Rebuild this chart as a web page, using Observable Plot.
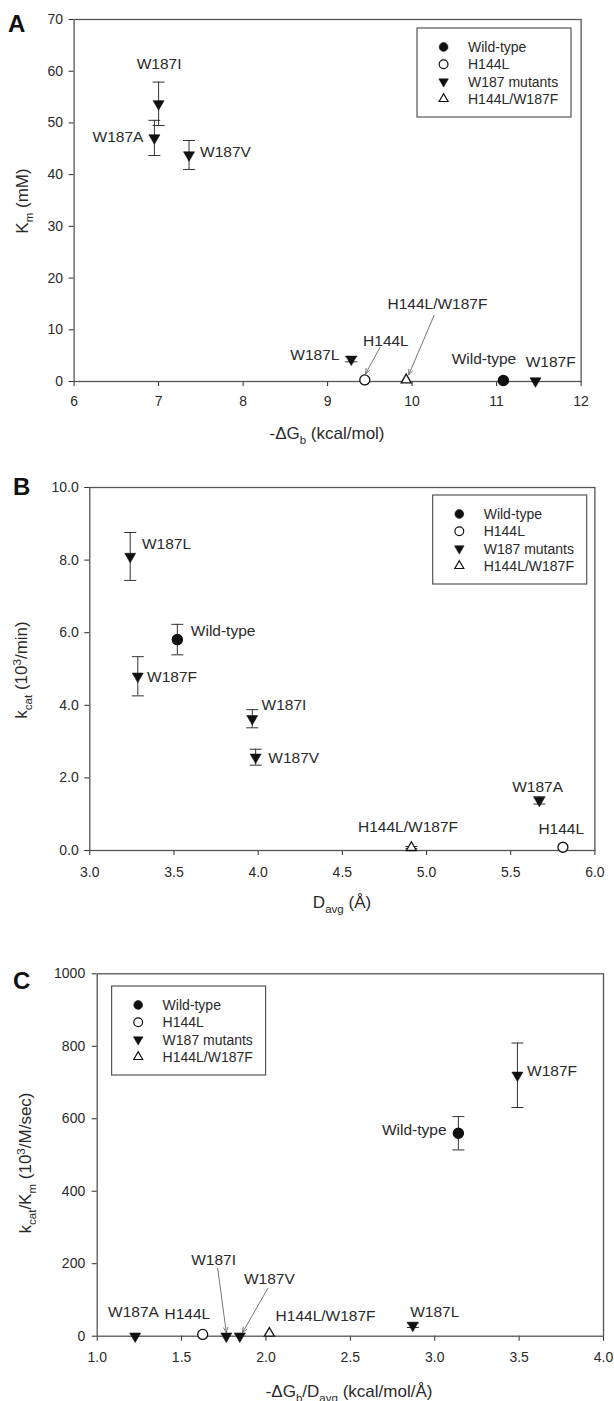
<!DOCTYPE html>
<html><head><meta charset="utf-8">
<script src="https://cdn.jsdelivr.net/npm/d3@7"></script>
<script src="https://cdn.jsdelivr.net/npm/@observablehq/plot@0.6"></script>
<style>
body{margin:0;background:#fff;}
#chart svg{display:block;overflow:visible;}
</style></head><body><div id="chart"></div>
<script>
// ---------- data ----------
const names  = ["Wild-type","H144L","W187A","W187I","W187V","W187L","W187F","H144L/W187F"];
const groups = ["Wild-type","H144L","W187 mutants","W187 mutants","W187 mutants","W187 mutants","W187 mutants","H144L/W187F"];
const legendLabels = ["Wild-type","H144L","W187 mutants","H144L/W187F"];

// Panel A: -dGb (kcal/mol) vs Km (mM)
const dG    = [11.08, 9.44, 6.95, 7.00, 7.36, 9.28, 11.46, 9.93];
const km    = [0.2, 0.3, 47.1, 53.7, 43.8, 4.3, 0.1, 0.3];
const kmErr = [0, 0, 3.4, 4.2, 2.8, 0.5, 0, 0];
// Panel B: Davg (Å) vs kcat (10^3/min)
const davg    = [3.52, 5.81, 5.67, 3.965, 3.985, 3.24, 3.285, 4.91];
const kcat    = [5.81, 0.09, 1.38, 3.63, 2.57, 8.10, 4.80, 0.08];
const kcatErr = [0.42, 0, 0.10, 0.25, 0.22, 0.66, 0.54, 0.03];
// Panel C: -dGb/Davg vs kcat/Km (10^3/M/sec)
const ratio  = [3.14, 1.625, 1.225, 1.765, 1.845, 2.87, 3.49, 2.02];
const eff    = [560, 5, 0, 0, 0, 30, 720, 8];
const effErr = [46, 0, 0, 0, 0, 6, 89, 0];

const xTicksA = [6,7,8,9,10,11,12];
const yTicksA = [0,10,20,30,40,50,60,70];
const xTicksB = [3.0,3.5,4.0,4.5,5.0,5.5,6.0];
const yTicksB = [0,2,4,6,8,10];
const xTicksC = [1.0,1.5,2.0,2.5,3.0,3.5,4.0];
const yTicksC = [0,200,400,600,800,1000];

// annotations (data units)
const labelsA = [
  {text:"W187I", x:7.006, y:61.3, anchor:"middle"},
  {text:"W187A", x:6.82, y:47.2, anchor:"end"},
  {text:"W187V", x:7.49, y:44.3, anchor:"start"},
  {text:"W187L", x:9.14, y:5.2, anchor:"end"},
  {text:"H144L", x:9.69, y:7.9, anchor:"middle"},
  {text:"H144L/W187F", x:10.30, y:15.0, anchor:"middle"},
  {text:"Wild-type", x:10.85, y:4.4, anchor:"middle"},
  {text:"W187F", x:11.64, y:3.7, anchor:"middle"}
];
const arrowsA = [
  {x1:9.62, y1:6.6, x2:9.45, y2:1.5},
  {x1:10.26, y1:12.8, x2:9.96, y2:1.3}
];
const labelsB = [
  {text:"W187L", x:3.31, y:8.45, anchor:"start"},
  {text:"Wild-type", x:3.60, y:6.04, anchor:"start"},
  {text:"W187F", x:3.34, y:4.77, anchor:"start"},
  {text:"W187I", x:4.02, y:4.01, anchor:"start"},
  {text:"W187V", x:4.06, y:2.55, anchor:"start"},
  {text:"W187A", x:5.66, y:1.76, anchor:"middle"},
  {text:"H144L/W187F", x:4.89, y:0.64, anchor:"middle"},
  {text:"H144L", x:5.80, y:0.60, anchor:"middle"}
];
const arrowsB = [];
const labelsC = [
  {text:"W187A", x:1.215, y:66, anchor:"middle"},
  {text:"H144L", x:1.534, y:60, anchor:"middle"},
  {text:"W187I", x:1.69, y:209, anchor:"middle"},
  {text:"W187V", x:2.02, y:159, anchor:"middle"},
  {text:"H144L/W187F", x:2.353, y:57, anchor:"middle"},
  {text:"W187L", x:3.00, y:66, anchor:"middle"},
  {text:"Wild-type", x:3.07, y:568, anchor:"end"},
  {text:"W187F", x:3.547, y:733, anchor:"start"}
];
const arrowsC = [
  {x1:1.714, y1:187, x2:1.765, y2:10},
  {x1:2.011, y1:132, x2:1.861, y2:10}
];

// ---------- styling ----------
const FONT = '"Liberation Sans", Arial, Helvetica, sans-serif';
const INK = "#2a2a2a", FRAME = "#555", BAR = "#333", ARROW = "#666", MARK = "#111";

const triDown = {draw(ctx){ const s=11, h=9.5; ctx.moveTo(0,2*h/3); ctx.lineTo(-s/2,-h/3); ctx.lineTo(s/2,-h/3); ctx.closePath(); }};
const triUp   = {draw(ctx){ const s=10, h=8.7; ctx.moveTo(0,-2*h/3); ctx.lineTo(s/2,h/3); ctx.lineTo(-s/2,h/3); ctx.closePath(); }};
const triDownS = {draw(ctx){ const s=9.5, h=8.2; ctx.moveTo(0,2*h/3); ctx.lineTo(-s/2,-h/3); ctx.lineTo(s/2,-h/3); ctx.closePath(); }};
const triUpS   = {draw(ctx){ const s=9, h=7.8; ctx.moveTo(0,-2*h/3); ctx.lineTo(s/2,h/3); ctx.lineTo(-s/2,h/3); ctx.closePath(); }};
const capSym  = {draw(ctx){ ctx.moveTo(-6,0); ctx.lineTo(6,0); }};

function dotMarks(rows) {
  const g = k => rows.filter(d => d.group === k);
  return [
    Plot.dot(g("Wild-type"), {x:"x", y:"y", r:5, fill:MARK, stroke:MARK}),
    Plot.dot(g("H144L"), {x:"x", y:"y", r:5, fill:"white", stroke:MARK, strokeWidth:1.3}),
    Plot.dot(g("W187 mutants"), {x:"x", y:"y", symbol:triDown, fill:MARK, stroke:MARK, strokeWidth:0.6}),
    Plot.dot(g("H144L/W187F"), {x:"x", y:"y", symbol:triUp, fill:"white", stroke:MARK, strokeWidth:1.3})
  ];
}

function labelMarks(labels) {
  return ["start","middle","end"].map(a =>
    Plot.text(labels.filter(d => d.anchor === a), {x:"x", y:"y", text:"text", textAnchor:a, fontSize:15.5, fill:INK}));
}

function richText(svg, x, y, parts, size, rotate) {
  const t = d3.select(svg).append("text")
    .attr("transform", `translate(${x},${y}) rotate(${rotate||0})`)
    .attr("y", size*0.35).attr("text-anchor","middle")
    .attr("font-family", FONT).attr("font-size", size).attr("fill", INK);
  let off = 0;
  parts.forEach(([txt, kind]) => {
    const target = kind === "sub" ? size*0.28 : kind === "sup" ? -size*0.38 : 0;
    t.append("tspan").attr("dy", target - off)
      .attr("font-size", kind ? size*0.68 : size).text(txt);
    off = target;
  });
}

function legend(svg, x0, y0) {
  const g = d3.select(svg).append("g");
  g.append("rect").attr("x", x0).attr("y", y0).attr("width", 154).attr("height", 89)
    .attr("fill","white").attr("stroke", FRAME).attr("stroke-width", 1.2);
  const sym = {
    "Wild-type": {type: d3.symbolCircle, fill: MARK},
    "H144L": {type: d3.symbolCircle, fill: "white"},
    "W187 mutants": {type: triDownS, fill: MARK},
    "H144L/W187F": {type: triUpS, fill: "white"}
  };
  legendLabels.forEach((lab, i) => {
    const cy = y0 + 19 + i*17.3;
    const s = sym[lab];
    g.append("path").attr("transform", `translate(${x0+26.6},${cy})`)
      .attr("d", d3.symbol(s.type, Math.PI*4.4*4.4)())
      .attr("fill", s.fill).attr("stroke", MARK).attr("stroke-width", s.fill === "white" ? 1.2 : 0.6);
    g.append("text").attr("x", x0+51).attr("y", cy).attr("dy","0.35em")
      .attr("text-anchor", "start")
      .attr("font-family", FONT).attr("font-size", 14).attr("fill", INK).text(lab);
  });
}

function letter(svg, x, y, txt) {
  d3.select(svg).append("text").attr("x", x).attr("y", y).attr("text-anchor", "start")
    .attr("font-family", FONT).attr("font-weight", "bold").attr("font-size", 24).attr("fill", "#111").text(txt);
}

function panel(cfg) {
  const rows = names.map((n, i) => ({name:n, group:groups[i], x:cfg.xs[i], y:cfg.ys[i], e:cfg.es[i]}));
  const withErr = rows.filter(d => d.e > 0);
  const [mt, mr, mb, ml] = cfg.margins;
  const svg = Plot.plot({
    width: 614, height: cfg.height,
    marginTop: mt, marginRight: mr, marginBottom: mb, marginLeft: ml,
    style: {fontFamily: FONT, fontSize: "14px", color: INK, background: "white", overflow: "visible"},
    x: {domain: cfg.xDomain, ticks: cfg.xTicks, tickFormat: cfg.fmtX, tickSize: 5, tickPadding: cfg.padX, label: null},
    y: {domain: cfg.yDomain, ticks: cfg.yTicks, tickFormat: cfg.fmtY, tickSize: 5, tickPadding: cfg.padY, label: null},
    marks: [
      Plot.frame({stroke: FRAME, strokeWidth: 1.3}),
      Plot.ruleX(withErr, {x:"x", y1: d => d.y - d.e, y2: d => d.y + d.e, stroke: BAR, strokeWidth: 1}),
      Plot.dot(withErr, {x:"x", y: d => d.y + d.e, symbol: capSym, stroke: BAR, fill: "none", strokeWidth: 1}),
      Plot.dot(withErr, {x:"x", y: d => d.y - d.e, symbol: capSym, stroke: BAR, fill: "none", strokeWidth: 1}),
      Plot.arrow(cfg.arrows, {x1:"x1", y1:"y1", x2:"x2", y2:"y2", stroke: ARROW, strokeWidth: 0.9, headLength: 9, headAngle: 45}),
      ...dotMarks(rows),
      ...labelMarks(cfg.labels)
    ]
  });
  document.getElementById("chart").appendChild(svg);
  return svg;
}

const fInt = d3.format("d"), f1 = d3.format(".1f");

// Panel A
const svgA = panel({xs: dG, ys: km, es: kmErr, xDomain:[6,12], yDomain:[0,70], xTicks:xTicksA, yTicks:yTicksA,
  fmtX: fInt, fmtY: fInt, height: 460, margins:[19, 33.4, 79, 73.6], padX: 10, padY: 6, labels: labelsA, arrows: arrowsA});
letter(svgA, 8, 32, "A");
legend(svgA, 417, 28);
richText(svgA, 327, 433, [["-ΔG"],["b","sub"],[" (kcal/mol)"]], 17, 0);
richText(svgA, 22, 201, [["K"],["m","sub"],[" (mM)"]], 17, -90);

// Panel B
const svgB = panel({xs: davg, ys: kcat, es: kcatErr, xDomain:[3,6], yDomain:[0,10], xTicks:xTicksB, yTicks:yTicksB,
  fmtX: f1, fmtY: f1, height: 470, margins:[27, 19.6, 80, 89.3], padX: 12, padY: 6, labels: labelsB, arrows: arrowsB});
letter(svgB, 13, 35, "B");
legend(svgB, 432.7, 35);
richText(svgB, 342, 442, [["D"],["avg","sub"],[" (Å)"]], 17, 0);
richText(svgB, 21, 210, [["k"],["cat","sub"],[" (10"],["3","sup"],["/min)"]], 17, -90);

// Panel C
const svgC = panel({xs: ratio, ys: eff, es: effErr, xDomain:[1,4], yDomain:[0,1000], xTicks:xTicksC, yTicks:yTicksC,
  fmtX: f1, fmtY: fInt, height: 471, margins:[43.3, 11, 65.3, 96.7], padX: 11, padY: 7, labels: labelsC, arrows: arrowsC});
letter(svgC, 13, 59, "C");
legend(svgC, 111.6, 56);
richText(svgC, 349, 461, [["-ΔG"],["b","sub"],["/D"],["avg","sub"],[" (kcal/mol/Å)"]], 17, 0);
richText(svgC, 25, 233, [["k"],["cat","sub"],["/K"],["m","sub"],[" (10"],["3","sup"],["/M/sec)"]], 17, -90);
</script>
</body></html>
